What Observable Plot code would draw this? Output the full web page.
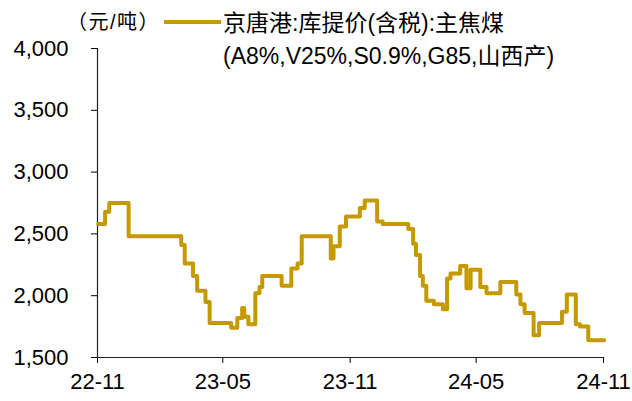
<!DOCTYPE html>
<html><head><meta charset="utf-8">
<script src="https://cdn.jsdelivr.net/npm/d3@7"></script>
<script src="https://cdn.jsdelivr.net/npm/@observablehq/plot@0.6"></script>
<style>
body{margin:0;background:#fff;}
#wrap{position:relative;width:632px;height:401px;font-family:"Liberation Sans",Arial,"Noto Sans CJK SC",sans-serif;color:#000;}
#wrap svg{position:absolute;left:0;top:0;}
.unit{position:absolute;left:67px;top:9px;font-size:20px;line-height:26px;letter-spacing:1.5px;white-space:nowrap;}
.swatch{position:absolute;left:164px;top:20px;width:57px;height:4px;}
.ltext{position:absolute;left:223px;top:7px;font-size:23px;line-height:33px;white-space:nowrap;}
</style></head><body><div id="wrap"></div>
<script>
const dates = ["2022-11-02","2022-11-12","2022-11-18","2022-12-16","2023-03-02","2023-03-07","2023-03-19","2023-03-25","2023-04-06","2023-04-12","2023-05-13","2023-05-22","2023-05-29","2023-06-01","2023-06-07","2023-06-17","2023-06-23","2023-06-27","2023-07-25","2023-08-08","2023-08-17","2023-08-23","2023-10-04","2023-10-08","2023-10-17","2023-10-26","2023-11-15","2023-11-22","2023-12-10","2023-12-18","2024-01-24","2024-01-31","2024-02-04","2024-02-10","2024-02-14","2024-02-19","2024-03-01","2024-03-14","2024-03-20","2024-03-25","2024-04-08","2024-04-17","2024-04-23","2024-05-07","2024-05-16","2024-06-05","2024-06-28","2024-07-04","2024-07-10","2024-07-23","2024-07-31","2024-09-02","2024-09-09","2024-09-22","2024-09-28","2024-10-10","2024-11-02"];
const values = [2580,2680,2750,2480,2410,2260,2160,2040,1950,1780,1740,1820,1900,1830,1770,2020,2070,2160,2080,2220,2260,2480,2300,2400,2560,2640,2710,2770,2600,2580,2540,2420,2330,2160,2080,1960,1930,1890,2140,2180,2240,2060,2210,2070,2020,2110,2010,1930,1860,1680,1780,1870,2010,1770,1750,1640,1640];
const seriesName = "京唐港:库提价(含税):主焦煤";
const seriesNote = "(A8%,V25%,S0.9%,G85,山西产)";
const unitLabel = "（元/吨）";
const yTicks = [1500, 2000, 2500, 3000, 3500, 4000];
const xTicks = ["2022-11-01", "2023-05-01", "2023-11-01", "2024-05-01", "2024-11-01"];
const lineColor = "#C49A00";

const data = dates.map((d, i) => ({date: new Date(d), value: values[i]}));
const xT = xTicks.map(d => new Date(d));

const chart = Plot.plot({
  width: 632, height: 401,
  marginLeft: 97, marginRight: 29, marginTop: 48, marginBottom: 44,
  style: {fontFamily: '"Liberation Sans", Arial, sans-serif', fontSize: "22px", color: "#000", background: "#fff", overflow: "visible"},
  x: {type: "utc", domain: [xT[0], xT[xT.length - 1]]},
  y: {domain: [yTicks[0], yTicks[yTicks.length - 1]]},
  marks: [
    Plot.axisY({ticks: yTicks, tickFormat: d3.format(","), tickSize: 6, tickPadding: 23, label: null, fontSize: 22}),
    Plot.axisX({ticks: xT, tickFormat: d3.utcFormat("%y-%m"), tickSize: 6, tickPadding: 10, label: null, fontSize: 22}),
    Plot.ruleX([xT[0]], {stroke: "#222", strokeWidth: 1.2}),
    Plot.ruleY([yTicks[0]], {stroke: "#222", strokeWidth: 1.2}),
    Plot.line(data, {x: "date", y: "value", curve: "step-after", stroke: lineColor, strokeWidth: 4, strokeLinejoin: "round"})
  ]
});
const wrap = document.getElementById("wrap");
wrap.appendChild(chart);
const u = document.createElement("div"); u.className = "unit"; u.textContent = unitLabel; wrap.appendChild(u);
const s = document.createElement("div"); s.className = "swatch"; s.style.background = lineColor; wrap.appendChild(s);
const t = document.createElement("div"); t.className = "ltext";
const l1 = document.createElement("div"); l1.textContent = seriesName; t.appendChild(l1);
const l2 = document.createElement("div"); l2.textContent = seriesNote; t.appendChild(l2);
wrap.appendChild(t);
</script>
</body></html>
